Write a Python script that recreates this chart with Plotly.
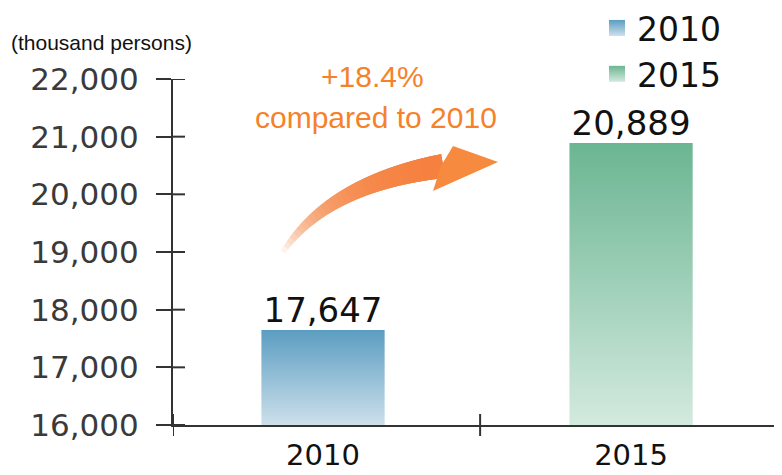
import plotly.graph_objects as go

# data
years = ["2010", "2015"]
values = [17647, 20889]
value_labels = ["17,647", "20,889"]
y_ticks = [16000, 17000, 18000, 19000, 20000, 21000, 22000]
y_tick_labels = ["16,000", "17,000", "18,000", "19,000", "20,000", "21,000", "22,000"]
top_colors = ["#5b9dc1", "#6bb592"]
bottom_colors = ["#cde0eb", "#d3eadf"]
change_text = "+18.4%"
change_note = "compared to 2010"
unit_text = "(thousand persons)"

# the page puts the plot 8px in from the top-left corner
OFF = 8
W, H = 782 - OFF, 475 - OFF
ML, MR, MT, MB = 173 - OFF, 0, 79 - OFF, 50
PW, PH = W - ML - MR, H - MT - MB
half = 0.2
base = y_ticks[0]


def px2paper(px, py):
    # px, py are positions in the 782x475 window
    return (px - OFF - ML) / PW, (H - MB - (py - OFF)) / PH


fig = go.Figure()

for i, (yr, v) in enumerate(zip(years, values)):
    fig.add_trace(go.Scatter(
        x=[i - half, i + half, i + half, i - half, i - half],
        y=[base, base, v, v, base],
        mode="none", fill="toself", showlegend=False,
        fillgradient=dict(type="vertical",
                          colorscale=[[0, bottom_colors[i]], [1, top_colors[i]]]),
        hoverinfo="skip",
    ))
    # legend swatch
    fig.add_trace(go.Scatter(
        x=[None], y=[None], mode="markers", name=yr,
        marker=dict(symbol="square", size=21, color=top_colors[i],
                    gradient=dict(type="vertical", color=bottom_colors[i])),
    ))

fig.add_trace(go.Scatter(
    x=list(range(len(years))), y=values, mode="text", text=value_labels,
    textposition="top center", showlegend=False,
    textfont=dict(family="DejaVu Sans", size=34, color="#111111"),
))

# crossing ticks (inside part)
shapes = []
for t in y_ticks:
    shapes.append(dict(type="line", xref="paper", yref="y", x0=0, x1=12 / PW,
                       y0=t, y1=t, line=dict(color="#333333", width=2)))
for xv in [-0.487, 0.51]:
    shapes.append(dict(type="line", xref="x", yref="paper", x0=xv, x1=xv,
                       y0=-11 / PH, y1=11 / PH, line=dict(color="#333333", width=2)))

# fading curved arrow, built from stacked translucent pieces
p0, p1, p2 = (283, 252), (328, 184), (443, 166)
n = 30


def bez(t):
    x = (1 - t) ** 2 * p0[0] + 2 * (1 - t) * t * p1[0] + t ** 2 * p2[0]
    y = (1 - t) ** 2 * p0[1] + 2 * (1 - t) * t * p1[1] + t ** 2 * p2[1]
    dx = 2 * (1 - t) * (p1[0] - p0[0]) + 2 * t * (p2[0] - p1[0])
    dy = 2 * (1 - t) * (p1[1] - p0[1]) + 2 * t * (p2[1] - p1[1])
    ln = (dx ** 2 + dy ** 2) ** 0.5
    return x, y, -dy / ln, dx / ln


def width(t):
    return 5 + 19 * t


def body_path(t_start, steps=24):
    upper, lower = [], []
    for j in range(steps + 1):
        t = t_start + (1 - t_start) * j / steps
        x, y, nx, ny = bez(t)
        w = width(t) / 2
        upper.append(px2paper(x + nx * w, y + ny * w))
        lower.append(px2paper(x - nx * w, y - ny * w))
    pts = upper + lower[::-1]
    return "M " + " L ".join(f"{x:.4f},{y:.4f}" for x, y in pts) + " Z"


for k in range(n):
    shapes.append(dict(type="path", xref="paper", yref="paper", path=body_path(k / n * 0.97),
                       fillcolor="#f5813a", opacity=0.10, line=dict(width=0)))
head = [px2paper(453, 146), px2paper(498, 162), px2paper(433, 191), px2paper(441, 166)]
shapes.append(dict(type="path", xref="paper", yref="paper",
                   path="M " + " L ".join(f"{x:.4f},{y:.4f}" for x, y in head) + " Z",
                   fillcolor="#f68a3e", line=dict(width=0)))

orange = "#f5822a"
annotations = [
    dict(text=unit_text, xref="paper", yref="paper", x=px2paper(9, 0)[0], y=px2paper(0, 42)[1],
         xanchor="left", yanchor="middle", showarrow=False,
         font=dict(family="Liberation Sans", size=21, color="#111111")),
    dict(text=change_text, xref="paper", yref="paper", x=px2paper(372, 0)[0], y=px2paper(0, 76)[1],
         xanchor="center", yanchor="middle", showarrow=False,
         font=dict(family="Liberation Sans", size=30, color=orange)),
    dict(text=change_note, xref="paper", yref="paper", x=px2paper(376, 0)[0], y=px2paper(0, 117)[1],
         xanchor="center", yanchor="middle", showarrow=False,
         font=dict(family="Liberation Sans", size=30, color=orange)),
]

fig.update_layout(
    width=W, height=H,
    margin=dict(l=ML, r=MR, t=MT, b=MB, autoexpand=False),
    plot_bgcolor="white", paper_bgcolor="white",
    showlegend=True,
    legend=dict(x=px2paper(597, 0)[0], y=px2paper(0, 0)[1], xanchor="left", yanchor="top",
                font=dict(family="DejaVu Sans", size=33, color="#111111"),
                tracegroupgap=0, itemwidth=30, bgcolor="rgba(0,0,0,0)"),
    shapes=shapes,
    annotations=annotations,
    xaxis=dict(range=[-0.487, 1.49], tickvals=[0, 1], ticktext=years, ticks="",
               showline=True, linecolor="#333333", linewidth=2, showgrid=False,
               zeroline=False, ticklabelstandoff=3,
               tickfont=dict(family="DejaVu Sans", size=29, color="#111111")),
    yaxis=dict(range=[16000, 22000], tickvals=y_ticks, ticktext=y_tick_labels,
               ticks="outside", ticklen=15, tickwidth=2, tickcolor="#333333",
               showline=True, linecolor="#333333", linewidth=2, showgrid=False,
               zeroline=False, ticklabelstandoff=11,
               tickfont=dict(family="DejaVu Sans", size=31, color="#3a3a3a")),
)

fig.write_html("out.html")
